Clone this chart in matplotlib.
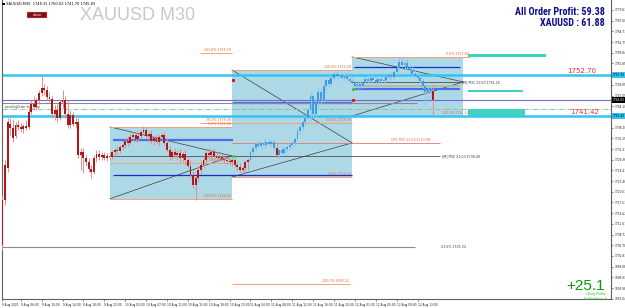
import matplotlib
matplotlib.use("Agg")
import matplotlib.pyplot as plt
import matplotlib.transforms as mtransforms
from matplotlib.patches import Rectangle


# XAUUSD M30 candles (bar 0 = left edge)

opens = [1705.9, 1718.3, 1727.1, 1739.2, 1738.1, 1735.9, 1738.9, 1738.4, 1737.8, 1738.7,
         1738.4, 1742.5, 1744.7, 1743.9, 1745.8, 1747.8, 1749.1, 1748.6, 1746.7, 1746.1,
         1742.0, 1743.1, 1740.9, 1745.3, 1745.8, 1742.0, 1738.9, 1741.7, 1739.2, 1739.8,
         1730.7, 1731.5, 1729.9, 1728.8, 1726.8, 1726.0, 1729.9, 1731.0, 1730.1, 1730.7,
         1729.9, 1730.4, 1730.1, 1731.5, 1732.1, 1731.8, 1732.9, 1733.4, 1734.5, 1734.0,
         1735.6, 1736.2, 1735.1, 1735.9, 1737.0, 1737.6, 1735.9, 1736.5, 1734.5, 1735.4,
         1734.3, 1735.6, 1736.2, 1734.0, 1732.1, 1730.1, 1731.5, 1730.7, 1731.2, 1729.9,
         1731.0, 1729.3, 1727.6, 1725.2, 1722.4, 1724.3, 1726.5, 1727.9, 1729.3, 1731.2,
         1730.7, 1731.5, 1730.4, 1729.9, 1730.1, 1729.6, 1729.3, 1729.0, 1728.8, 1729.3,
         1727.9, 1727.4, 1726.5, 1727.1, 1728.8, 1729.3, 1731.5, 1732.6, 1733.7, 1733.2,
         1734.0, 1733.4, 1734.3, 1733.7, 1734.3, 1732.6, 1730.7, 1732.1, 1731.2, 1732.3,
         1732.9, 1733.4, 1734.0, 1735.1, 1737.3, 1738.4, 1739.8, 1740.9, 1743.1, 1746.9,
         1742.0, 1745.3, 1748.0, 1745.8, 1749.7, 1751.3, 1750.2, 1751.9, 1753.0, 1752.4,
         1752.7, 1751.9, 1752.4, 1751.6, 1751.1, 1750.5, 1749.7, 1750.2, 1749.7, 1750.8,
         1751.6, 1751.1, 1751.9, 1751.3, 1750.8, 1751.6, 1751.1, 1751.3, 1752.2, 1752.7,
         1752.2, 1753.5, 1754.7, 1756.3, 1755.5, 1756.0, 1754.9, 1754.1, 1753.0, 1752.4,
         1751.9, 1751.1, 1749.7, 1748.0, 1748.9, 1748.3]
highs = [1719.7, 1729.3, 1740.9, 1740.9, 1740.3, 1739.8, 1740.3, 1739.5, 1739.2, 1740.3,
         1743.6, 1745.8, 1746.9, 1746.4, 1748.6, 1752.7, 1750.2, 1749.7, 1748.0, 1746.9,
         1744.5, 1744.7, 1745.8, 1748.6, 1746.9, 1745.8, 1743.1, 1742.5, 1740.9, 1740.9,
         1732.6, 1732.6, 1730.7, 1729.9, 1727.9, 1730.7, 1732.1, 1732.1, 1731.5, 1731.5,
         1731.2, 1731.5, 1732.1, 1732.6, 1733.2, 1733.4, 1734.0, 1735.4, 1735.9, 1736.7,
         1737.0, 1737.3, 1736.5, 1737.6, 1738.7, 1738.1, 1737.0, 1737.6, 1736.2, 1736.5,
         1736.2, 1736.7, 1737.0, 1735.4, 1733.2, 1732.1, 1732.6, 1732.1, 1732.6, 1731.5,
         1732.1, 1730.4, 1729.3, 1726.5, 1724.9, 1727.6, 1729.3, 1730.7, 1732.1, 1732.6,
         1732.1, 1732.6, 1731.5, 1731.0, 1731.0, 1730.4, 1730.1, 1729.9, 1729.9, 1730.1,
         1728.8, 1728.5, 1727.6, 1729.3, 1729.9, 1732.1, 1733.4, 1734.3, 1734.8, 1734.5,
         1735.1, 1734.8, 1735.1, 1734.8, 1735.1, 1734.3, 1732.6, 1733.2, 1732.9, 1733.7,
         1734.0, 1734.5, 1735.6, 1738.1, 1739.2, 1740.3, 1741.7, 1743.6, 1748.0, 1747.8,
         1746.4, 1749.1, 1749.1, 1750.8, 1751.9, 1753.0, 1752.4, 1753.8, 1754.1, 1753.5,
         1753.5, 1753.3, 1753.5, 1752.7, 1752.2, 1751.6, 1751.1, 1751.3, 1751.3, 1752.2,
         1752.7, 1752.4, 1752.7, 1752.2, 1752.2, 1752.4, 1752.2, 1752.7, 1753.3, 1753.5,
         1754.1, 1755.2, 1757.4, 1757.7, 1756.9, 1757.1, 1756.3, 1755.2, 1754.1, 1753.5,
         1752.7, 1751.9, 1750.5, 1749.7, 1750.2, 1750.0]
lows = [1704.5, 1716.9, 1726.0, 1736.2, 1734.3, 1735.4, 1737.6, 1737.0, 1736.7, 1737.6,
        1737.8, 1742.0, 1743.1, 1743.1, 1744.7, 1746.9, 1747.2, 1745.8, 1745.3, 1740.9,
        1740.3, 1739.8, 1740.3, 1743.6, 1740.9, 1738.1, 1738.1, 1738.7, 1738.1, 1729.9,
        1726.5, 1725.7, 1727.6, 1726.0, 1724.3, 1725.4, 1728.8, 1729.3, 1729.3, 1729.3,
        1729.0, 1729.3, 1729.6, 1730.4, 1731.0, 1731.2, 1732.1, 1732.6, 1733.2, 1733.7,
        1734.5, 1734.3, 1734.3, 1735.4, 1736.2, 1735.4, 1734.3, 1733.7, 1733.4, 1733.7,
        1733.2, 1734.8, 1733.4, 1731.5, 1729.3, 1729.3, 1729.9, 1729.3, 1728.8, 1728.8,
        1727.9, 1727.1, 1724.3, 1721.6, 1718.3, 1723.2, 1725.4, 1727.1, 1728.5, 1729.9,
        1729.3, 1729.9, 1729.3, 1728.8, 1729.0, 1728.5, 1728.2, 1727.9, 1727.6, 1727.4,
        1726.5, 1726.0, 1725.7, 1725.4, 1726.5, 1728.5, 1730.7, 1731.8, 1732.6, 1732.3,
        1732.9, 1732.6, 1733.2, 1732.9, 1732.1, 1729.9, 1729.9, 1730.4, 1730.7, 1731.5,
        1732.1, 1732.6, 1733.2, 1734.5, 1736.5, 1737.6, 1738.9, 1740.0, 1739.8, 1741.2,
        1740.9, 1744.2, 1744.5, 1745.3, 1748.6, 1749.1, 1749.7, 1751.3, 1751.6, 1751.3,
        1751.3, 1751.3, 1751.1, 1750.5, 1750.0, 1749.1, 1748.9, 1749.1, 1749.1, 1750.2,
        1750.5, 1750.2, 1750.8, 1750.2, 1750.2, 1750.5, 1750.2, 1750.8, 1751.3, 1751.6,
        1751.6, 1752.4, 1754.1, 1754.7, 1754.1, 1754.4, 1753.3, 1752.4, 1751.9, 1751.3,
        1750.5, 1749.1, 1744.5, 1745.8, 1746.4, 1741.7]
closes = [1718.3, 1727.9, 1739.8, 1738.1, 1735.4, 1738.9, 1738.4, 1737.8, 1738.7, 1738.1,
          1742.5, 1744.7, 1743.9, 1745.8, 1747.8, 1749.1, 1748.6, 1746.7, 1746.1, 1742.0,
          1743.1, 1740.9, 1745.3, 1745.8, 1742.0, 1738.9, 1741.7, 1739.2, 1739.8, 1730.7,
          1731.5, 1729.9, 1728.8, 1726.8, 1726.0, 1729.9, 1731.0, 1730.1, 1730.7, 1729.9,
          1730.4, 1730.1, 1731.5, 1732.1, 1731.8, 1732.9, 1733.4, 1734.5, 1734.0, 1735.6,
          1736.2, 1735.1, 1735.9, 1737.0, 1737.6, 1735.9, 1736.5, 1734.5, 1735.4, 1734.3,
          1735.6, 1736.2, 1734.0, 1732.1, 1730.1, 1731.5, 1730.7, 1731.2, 1729.9, 1731.0,
          1729.3, 1727.6, 1725.2, 1722.4, 1724.3, 1726.5, 1727.9, 1729.3, 1731.2, 1730.7,
          1731.5, 1730.4, 1729.9, 1730.1, 1729.6, 1729.3, 1729.0, 1728.8, 1729.3, 1727.9,
          1727.4, 1726.5, 1727.1, 1728.8, 1729.3, 1731.5, 1732.6, 1733.7, 1733.2, 1734.0,
          1733.4, 1734.3, 1733.7, 1734.3, 1732.6, 1730.7, 1732.1, 1731.2, 1732.3, 1732.9,
          1733.4, 1734.0, 1735.1, 1737.3, 1738.4, 1739.8, 1740.9, 1743.1, 1746.9, 1742.0,
          1745.3, 1748.0, 1745.8, 1749.7, 1751.3, 1750.2, 1751.9, 1753.0, 1752.4, 1752.7,
          1751.9, 1752.4, 1751.6, 1751.1, 1750.5, 1749.7, 1750.2, 1749.7, 1750.8, 1751.6,
          1751.1, 1751.9, 1751.3, 1750.8, 1751.6, 1751.1, 1751.3, 1752.2, 1752.7, 1752.2,
          1753.5, 1754.7, 1756.3, 1755.5, 1756.0, 1754.9, 1754.1, 1753.0, 1752.4, 1751.9,
          1751.1, 1749.7, 1748.0, 1748.9, 1748.3, 1745.8]

# time axis labels (bar index of each label)
time_ticks = [0, 7, 15, 23, 31, 39, 47, 55, 63, 71, 79, 87, 95, 103, 111, 119, 127, 135, 143, 151, 159]
time_labels = ["9 Aug 2021", "9 Aug 06:00", "9 Aug 10:00", "9 Aug 14:00", "9 Aug 18:00",
               "9 Aug 22:00", "10 Aug 03:00", "10 Aug 07:00", "10 Aug 11:00", "10 Aug 15:00",
               "10 Aug 19:00", "10 Aug 23:00", "11 Aug 04:00", "11 Aug 08:00", "11 Aug 12:00",
               "11 Aug 16:00", "11 Aug 20:00", "12 Aug 01:00", "12 Aug 05:00", "12 Aug 09:00",
               "12 Aug 13:00"]

# price scale
price_ticks = [1770.63, 1767.68, 1764.73, 1761.79, 1758.84, 1755.89, 1752.94, 1749.99,
               1747.05, 1744.10, 1741.15, 1738.20, 1735.25, 1732.31, 1729.36, 1726.41,
               1723.46, 1720.51, 1717.57, 1714.62, 1711.67, 1708.72, 1705.78, 1702.83,
               1699.88, 1696.93, 1693.98, 1691.04]

# horizontal levels
order_levels = [1752.70, 1741.42]
bid_price = 1745.83
pending_level = 1743.3
grey_level = 1744.9
grey_low_level = 1705.3

# session boxes (bars / prices)
box_start = [41.2, 87.9, 133.9]
box_end = [87.9, 133.9, 176.5]
box_top = [1738.4, 1754.1, 1757.7]
box_bottom = [1718.6, 1724.6, 1741.4]
box_poc = [1730.4, 1734.0, 1750.8]
box_vah = [1734.8, 1744.9, 1748.9]
box_high_line = [1725.2, 1725.2, 1754.9]

# fibo lines: start bar, end bar, price, label
fib_start = [41.2, 41.2, 41.2, 75.7, 75.7, 87.9, 87.9, 87.9, 87.9, 133.9, 133.9]
fib_end = [87.9, 87.9, 87.9, 87.9, 87.9, 133.9, 133.9, 133.9, 133.1, 179.0, 179.0]
fib_price = [1738.4, 1728.5, 1718.6, 1758.8, 1739.5, 1754.1, 1739.4, 1724.6, 1695.1, 1757.7, 1741.4]
fib_labels = ["0.0% 1738.40", "61.8% 1728.47", "100.0% 1718.56", "161.8% 1758.78", "38.2% 1739.49",
              "100.0% 1754.09", "50.0% 1739.35", "0.0% 1724.62", "-100.0% 1695.12",
              "0.0% 1757.68", "100.0% 1741.42"]

# teal zones: start bar, end bar, low, high
zone_start = [178.3, 178.3, 178.3]
zone_end = [208.2, 199.4, 200.2]
zone_low = [1757.7, 1748.1, 1741.4]
zone_high = [1758.5, 1748.6, 1743.3]


RED = "#b01818"
RED_WICK = "#e08f8f"
BLUE = "#3d9be0"
BLUE_WICK = "#92c4ee"
SALMON = "#f4a07c"
SALMON_TXT = "#e8663f"
NARROW = ["Liberation Sans Narrow", "Roboto Condensed", "Open Sans Condensed", "DejaVu Sans"]

fig = plt.figure(figsize=(6.25, 3.08), dpi=100)
fig.patch.set_facecolor("white")
ax = fig.add_axes([2 / 625, 9 / 308, 609 / 625, 299 / 308])
ax.set_xlim(-0.19, 233.1)
ax.set_ylim(1690.97, 1773.38)

# boxes
for x0, x1, top, bot in zip(box_start, box_end, box_top, box_bottom):
    ax.add_patch(Rectangle((x0, bot), x1 - x0, top - bot, fc="#add8e6", ec="none", zorder=0))

# converging lines + POC
for x0, x1, top, bot, poc in zip(box_start, box_end, box_top, box_bottom, box_poc):
    ax.plot([x0, x1], [top, poc], color="#3c3c3c", lw=0.5, zorder=2)
    ax.plot([x0, x1], [bot, poc], color="#3c3c3c", lw=0.5, zorder=2)

ax.hlines(box_poc[0], box_start[0], 167.6, color="#505050", lw=0.6, zorder=2)
ax.hlines(box_poc[2], box_start[2], 175.3, color="#505050", lw=0.6, zorder=2)
ax.hlines(box_poc[1], box_start[1], 167.6, color="#e07a6a", lw=0.6, zorder=2)
ax.text(168.5, box_poc[0], "[M] POC 21:00 1730.40", fontsize=2.3, color="#303030", va="center")
ax.text(176.0, box_poc[2], "[M] POC 21:00 1751.15", fontsize=2.3, color="#303030", va="center")
ax.text(164, box_poc[1] + 0.3, "OP1 POC 21:00 1733.98", fontsize=2.3, color=SALMON_TXT,
        va="bottom", ha="right")

for x0, x1, p in zip([42.3, 88.3, 134.5], [88.3, 133.9, 175.3], box_vah):
    ax.hlines(p, x0, x1, color="#4a6cf0", lw=1.6, zorder=2)
ax.hlines(box_high_line[0], 42.3, 133.9, color="#1530c8", lw=0.9, zorder=2)
ax.hlines(box_high_line[2], 134.5, 175.3, color="#1530c8", lw=0.9, zorder=2)
ax.hlines(1749.7, 134.5, 175.3, color="#b8b890", lw=1.2, zorder=2)

# fibo lines
for x0, x1, p, lab in zip(fib_start, fib_end, fib_price, fib_labels):
    ax.hlines(p, x0, x1, color=SALMON, lw=0.7, zorder=2)
    ax.text(x1 - 0.5, p + 0.25, lab, fontsize=2.3, color=SALMON_TXT, ha="right", va="bottom", zorder=5)

# grey lines
ax.hlines(grey_level, -1, 158.8, color="#8c8c8c", lw=0.8, zorder=2)
ax.hlines(grey_low_level, -1, 158.0, color="#8c8c8c", lw=0.8, zorder=2)
ax.text(168, grey_low_level, "23.6% 1705.34", fontsize=2.3, color="#404040", va="center")
ax.text(0.8, 1743.4, "pendingOrder buy_stop", fontsize=2.2, color="#404040", va="bottom")

# order / bid lines
ax.axhline(pending_level, color="#7fbf9f", lw=0.6, ls="-.", zorder=2)
ax.axhline(bid_price, color="#7468d8", lw=0.8, zorder=2)
for p in order_levels:
    ax.axhline(p, color="#33c4f5", lw=1.8, zorder=2)
ax.text(227.5, order_levels[0] + 0.3, "1752.70", fontsize=5, color="#ff2a2a", ha="right", va="bottom")
ax.text(228.5, order_levels[1] + 0.3, "1741.42", fontsize=5, color="#ff2a2a", ha="right", va="bottom")

# teal zones
for x0, x1, lo, hi in zip(zone_start, zone_end, zone_low, zone_high):
    ax.add_patch(Rectangle((x0, lo), x1 - x0, hi - lo, fc="#3ed2c2", ec="none", zorder=3))

# candles
for i, (o, h, l, c) in enumerate(zip(opens, highs, lows, closes)):
    red = i < 95 or i in (105, 165)
    body_col = RED if red else BLUE
    wick_col = RED_WICK if red else BLUE_WICK
    ax.vlines(i, l, h, color=wick_col, lw=0.7, zorder=4)
    height = c - o if abs(c - o) > 0.15 else 0.15
    ax.bar(i, height, bottom=o, width=0.72, color=body_col, lw=0, zorder=4)

# small markers
ax.plot([88.3], [1751.3], marker="s", ms=1.2, color="red", zorder=5)
ax.plot([134.2], [1745.8], marker="s", ms=1.2, color="red", zorder=5)
ax.plot([134.2], [1748.9], marker="s", ms=1.2, color="#30d030", zorder=5)
ax.plot([88.3], [1730.4], marker="s", ms=1.0, color="#30d030", zorder=5)

# axes styling
ax.spines["top"].set_visible(False)
for s in ["left", "right", "bottom"]:
    ax.spines[s].set_color("#606060")
    ax.spines[s].set_linewidth(0.8)

# hide scale labels that sit under the highlighted price tags
tagged = order_levels + [bid_price]
ax.yaxis.tick_right()
ax.set_yticks(price_ticks)
ax.set_yticklabels(["" if min(abs(p - t) for t in tagged) < 0.6 else f"{p:.2f}" for p in price_ticks])
ax.tick_params(axis="y", labelsize=2.1, length=1.5, width=0.4, pad=0.8, colors="#202020")
ax.set_xticks(time_ticks)
ax.set_xticklabels(time_labels, ha="left")
ax.tick_params(axis="x", labelsize=2.1, length=1.5, width=0.4, pad=1.2, colors="#202020")

trans = mtransforms.blended_transform_factory(ax.transAxes, ax.transData)
for p, fc, tc in [(order_levels[0], "#33c4f5", "black"), (order_levels[1], "#33c4f5", "black"),
                  (bid_price, "black", "white")]:
    ax.text(1.002, p, f"{p:.2f}", transform=trans, fontsize=2.1, color=tc, va="center", ha="left",
            bbox=dict(fc=fc, ec="none", pad=0.5), zorder=10, clip_on=False)

# header texts
fig.text(6 / 625, 1 - 4 / 308, "XAUUSD,M30  1748.31 1750.02 1741.70 1745.83",
         fontsize=2.6, color="black", va="center")
fig.patches.append(Rectangle((2 / 625, 1 - 5 / 308), 2.5 / 625, 2 / 308, fc="black",
                             transform=fig.transFigure, figure=fig))
fig.patches.append(Rectangle((27 / 625, 1 - 18 / 308), 20 / 625, 6 / 308, fc="#8b0a0a",
                             ec="#c0c0c0", lw=0.3, transform=fig.transFigure, figure=fig))
fig.text(37 / 625, 1 - 15 / 308, "close", fontsize=2.6, color="white", ha="center", va="center")
fig.text(80 / 625, 1 - 20 / 308, "XAUUSD M30", fontsize=13, color="#c8c8c8",
         family=["Liberation Sans", "DejaVu Sans"], va="baseline")

fig.text(605 / 625, 1 - 12 / 308, "All Order Profit: 59.38", fontsize=7.2, color="#0a0a8a",
         weight="bold", stretch="condensed", family=NARROW, ha="right", va="center")
fig.text(605 / 625, 1 - 23 / 308, "XAUUSD : 61.88", fontsize=7.2, color="#0a0a8a",
         weight="bold", stretch="condensed", family=NARROW, ha="right", va="center")

fig.text(605 / 625, 1 - 289.5 / 308, "+25.1", fontsize=11, color="#0a960a",
         family=["Liberation Sans", "DejaVu Sans"], ha="right", va="baseline")
fig.text(606 / 625, 1 - 294.5 / 308, "xDaily Profits", fontsize=2.2, color="#22c022",
         ha="right", va="center")
fig.text(607 / 625, 1 - 298.5 / 308, "Sw/Sw/Hour : 0", fontsize=2.2, color="#22c022",
         ha="right", va="center")

fig.savefig("out.png", dpi=100)
